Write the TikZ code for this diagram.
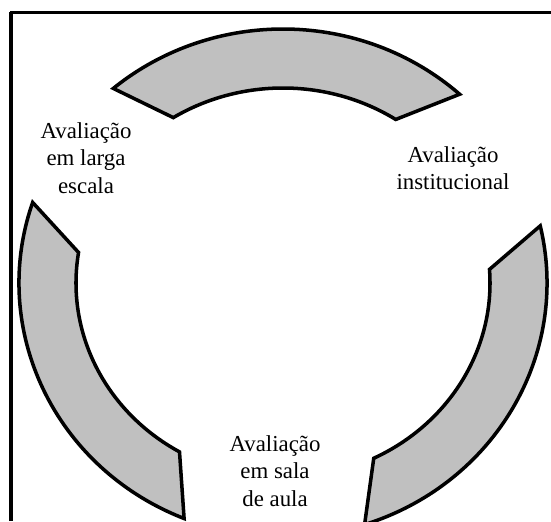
\documentclass[tikz,border=0pt]{standalone}
\usepackage{fontspec}
\setmainfont{Liberation Serif}
\definecolor{bandgray}{RGB}{192,192,192}

\begin{document}
\begin{tikzpicture}
[bandDecorate/.style={draw,line width=2pt,fill=bandgray,line join=miter},%
  labelDecorate/.style={align=center,inner sep=0pt,font=\fontsize{13}{15.5}\selectfont},%
  x=0.02cm,y=0.02cm]
\useasboundingbox (0,0) rectangle (551,521);
%% frame
\draw[line width=2pt] (11,0) -- (11,508.5);
\draw[line width=1.2pt] (10,508.5) -- (551,508.5);
%% bands
\coordinate (centre) at (283,238);
\foreach \bandname/\outA/\outB/\inB/\inA in {
  top/130/48/57/122, left/248/161.5/171/240, right/13/-72/-64/4}
{
  \draw[bandDecorate,shift={(centre)}]
    (\outA:264 and 254) arc[start angle=\outA,end angle=\outB,x radius=264,y radius=254]
    -- (\inB:207 and 195) arc[start angle=\inB,end angle=\inA,x radius=207,y radius=195]
    -- cycle;
}
%% labels
\node (larga) at (86,363) [labelDecorate] {Avaliação\\em larga\\escala};
\node (institucional) at (453,353) [labelDecorate] {Avaliação\\institucional};
\node (sala) at (275,50) [labelDecorate] {Avaliação\\em sala\\de aula};
\end{tikzpicture}
\end{document}
